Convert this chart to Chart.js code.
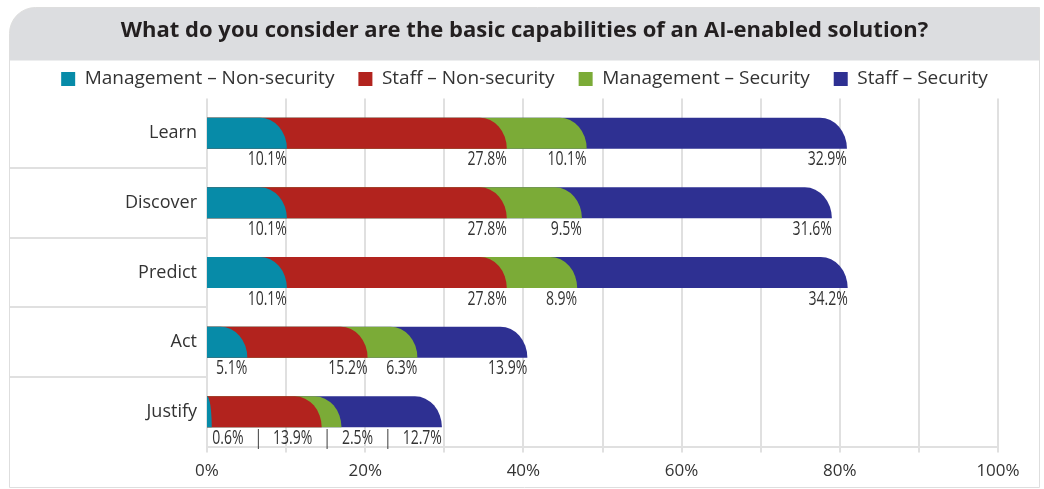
<!DOCTYPE html>
<html>
<head>
<meta charset="utf-8">
<script src="https://cdn.jsdelivr.net/npm/chart.js@4"></script>
<style>
  html, body { margin: 0; padding: 0; background: #fff; }
  #wrap { width: 1044px; height: 489px; }
</style>
</head>
<body>
<div id="wrap"><canvas id="caps-chart" width="1044" height="489"></canvas></div>
<script>
const categories = ['Learn', 'Discover', 'Predict', 'Act', 'Justify'];

const mgmtNonSecurity  = [10.1, 10.1, 10.1, 5.1, 0.6];
const staffNonSecurity = [27.8, 27.8, 27.8, 15.2, 13.9];
const mgmtSecurity     = [10.1, 9.5, 8.9, 6.3, 2.5];
const staffSecurity    = [32.9, 31.6, 34.2, 13.9, 12.7];

const xTicks = [0, 20, 40, 60, 80, 100];

const mainFont = '"Open Sans", "Noto Sans", sans-serif';

// frame + grey title band
const frame = {
  id: 'frame',
  beforeDraw(chart) {
    const ctx = chart.ctx;
    ctx.save();
    ctx.fillStyle = '#fff';
    ctx.fillRect(0, 0, chart.width, chart.height);
    ctx.beginPath();
    ctx.roundRect(9.5, 7.5, 1030, 53, [26, 0, 0, 0]);
    ctx.fillStyle = '#dcdde0';
    ctx.fill();
    ctx.beginPath();
    ctx.roundRect(9.5, 7.5, 1030, 480, [26, 0, 0, 0]);
    ctx.strokeStyle = '#dedede';
    ctx.lineWidth = 1;
    ctx.stroke();
    ctx.restore();
  }
};

// each segment is painted from the zero line to its end with a rounded top-right,
// the first dataset ends up on top so the curves overlap the next colour
const roundBars = {
  id: 'roundBars',
  beforeDatasetDraw(chart, args) {
    const ctx = chart.ctx;
    const x0 = chart.scales.x.getPixelForValue(0);
    const ds = chart.data.datasets[args.index];
    ctx.save();
    ctx.fillStyle = ds.backgroundColor;
    args.meta.data.forEach(bar => {
      const p = bar.getProps(['x', 'y', 'height'], true);
      const top = p.y - p.height / 2, bottom = p.y + p.height / 2;
      const r = Math.min(27, p.x - x0);
      ctx.beginPath();
      ctx.moveTo(x0, top);
      ctx.lineTo(p.x - r, top);
      ctx.ellipse(p.x - r, bottom, r, p.height, 0, -Math.PI / 2, 0);
      ctx.lineTo(x0, bottom);
      ctx.closePath();
      ctx.fill();
    });
    ctx.restore();
    return false;
  }
};

// value labels under the bars (narrowed text)
const squeeze = 0.7;
const valueLabels = {
  id: 'valueLabels',
  afterDatasetsDraw(chart) {
    const ctx = chart.ctx;
    const x0 = chart.scales.x.getPixelForValue(0);
    ctx.save();
    ctx.font = '20px ' + mainFont;
    ctx.fillStyle = '#333';
    ctx.textBaseline = 'top';
    ctx.textAlign = 'right';
    const put = (txt, x, y) => {
      ctx.save();
      ctx.translate(x, y);
      ctx.scale(squeeze, 1);
      ctx.fillText(txt, 0, 0);
      ctx.restore();
    };
    categories.forEach((c, i) => {
      const items = chart.data.datasets.map((ds, d) => {
        const bar = chart.getDatasetMeta(d).data[i];
        return { text: ds.data[i].toFixed(1) + '%', x: bar.x, bottom: bar.y + bar.height / 2 };
      });
      let fits = true, prev = x0;
      items.forEach(it => {
        const w = ctx.measureText(it.text).width * squeeze;
        if (it.x - w < prev) fits = false;
        prev = it.x + 2;
      });
      const y = items[0].bottom + 1;
      if (fits) {
        items.forEach(it => put(it.text, it.x, y));
      } else {
        put(items.map(it => it.text).join('   |   '), items[items.length - 1].x, y);
      }
    });
    ctx.restore();
  }
};

const data = {
  labels: categories,
  datasets: [
    { label: 'Management \u2013 Non-security', data: mgmtNonSecurity, backgroundColor: '#078ba8' },
    { label: 'Staff \u2013 Non-security', data: staffNonSecurity, backgroundColor: '#b2231e' },
    { label: 'Management \u2013 Security', data: mgmtSecurity, backgroundColor: '#7bab37' },
    { label: 'Staff \u2013 Security', data: staffSecurity, backgroundColor: '#2e3092' }
  ]
};

const config = {
  type: 'bar',
  data: data,
  options: {
    indexAxis: 'y',
    responsive: false,
    animation: false,
    barThickness: 31,
    layout: { padding: { left: 10, right: 5, top: 7, bottom: 0 } },
    plugins: {
      title: {
        display: true,
        text: 'What do you consider are the basic capabilities of an AI-enabled solution?',
        color: '#231f20',
        font: { family: mainFont, size: 22, weight: 'bold' },
        padding: { top: 11, bottom: 1 }
      },
      legend: {
        position: 'top',
        labels: {
          boxWidth: 14,
          boxHeight: 14,
          padding: 24,
          color: '#333',
          font: { family: mainFont, size: 19 }
        }
      },
      tooltip: { enabled: false }
    },
    scales: {
      x: {
        stacked: true,
        min: 0,
        max: 100,
        ticks: {
          stepSize: 10,
          padding: 8,
          color: '#333',
          font: { family: mainFont, size: 17 },
          maxRotation: 0,
          callback: v => xTicks.includes(v) ? v + '%' : ''
        },
        grid: { color: '#e0e0e0', lineWidth: 2, tickLength: 6 },
        border: { color: '#e0e0e0', width: 2 }
      },
      y: {
        stacked: true,
        afterFit: s => { s.width = 197; },
        ticks: {
          color: '#333',
          padding: -187,
          font: { family: mainFont, size: 18 }
        },
        grid: {
          offset: true,
          drawOnChartArea: false,
          tickLength: 197,
          color: c => (c.type !== 'tick' || c.index === 0) ? 'rgba(0,0,0,0)' : '#e0e0e0',
          lineWidth: 2
        },
        border: { display: false }
      },
      // empty right-hand axis, only reserves the margin right of 100%
      yRight: {
        type: 'category',
        position: 'right',
        afterFit: s => { s.width = 41; },
        ticks: { display: false },
        grid: { display: false },
        border: { display: false }
      }
    }
  },
  plugins: [frame, roundBars, valueLabels]
};

let obj = document.getElementById('caps-chart');
let capsChart = new Chart(obj, config);
</script>
</body>
</html>
